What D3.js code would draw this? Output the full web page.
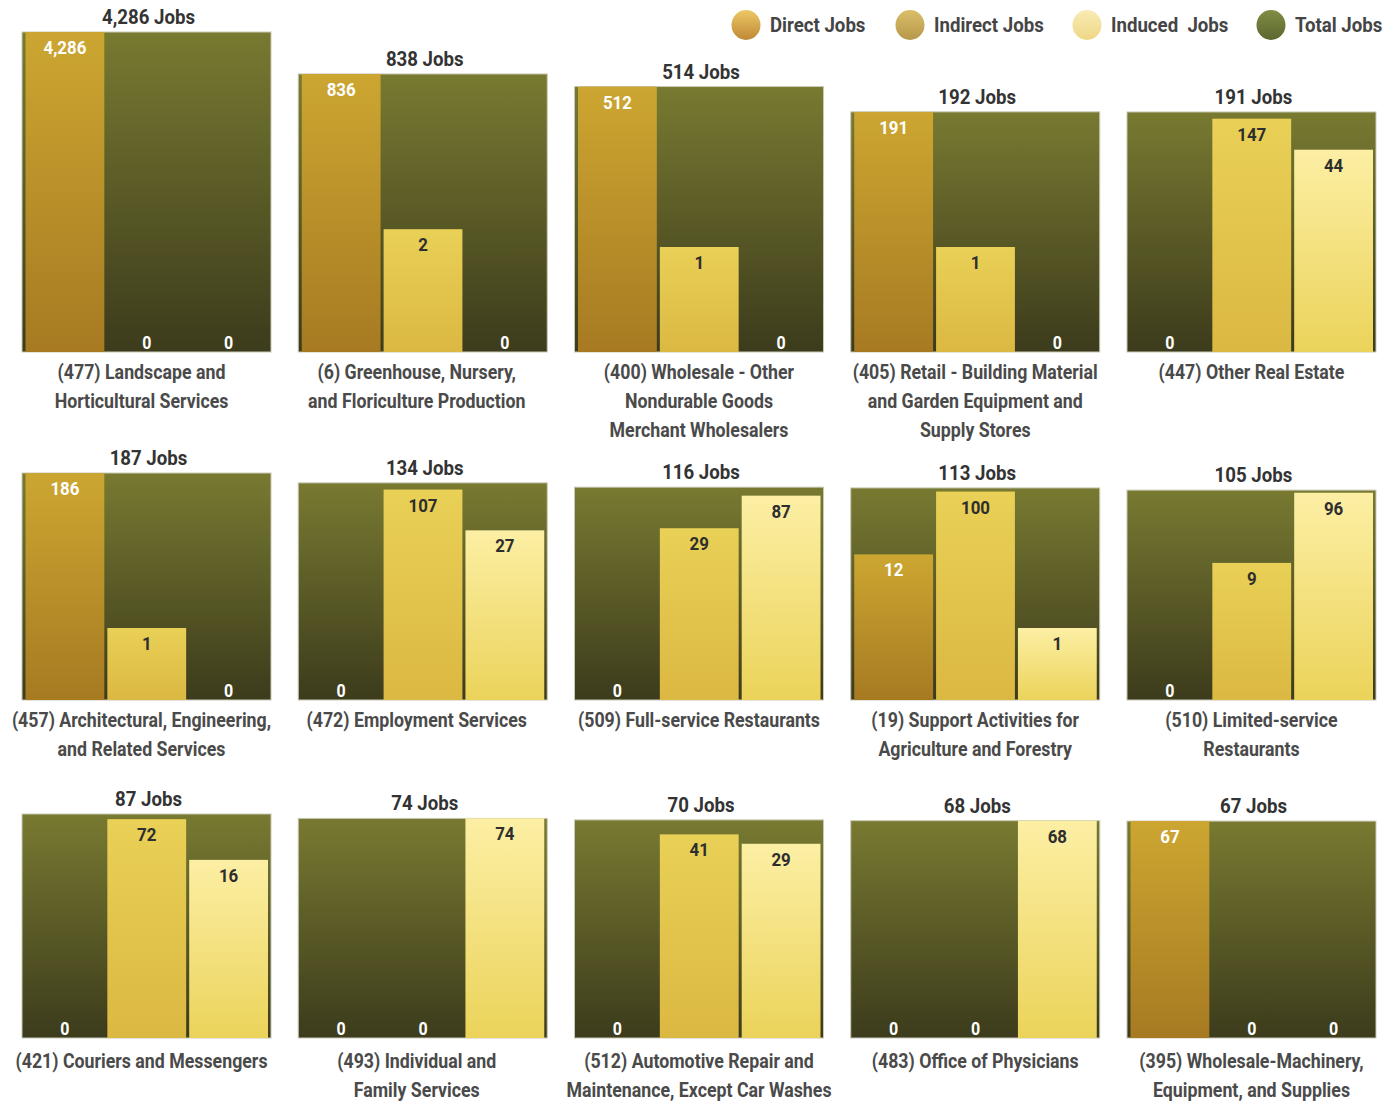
<!DOCTYPE html>
<html><head><meta charset="utf-8">
<script src="https://cdn.jsdelivr.net/npm/d3@7"></script>
<style>
body{margin:0;background:#fff}
text{font-family:"Roboto","Liberation Sans",sans-serif}
</style>
</head><body>
<svg id="chart" width="1393" height="1102"></svg>
<script>
// ---------------- DATA ----------------
const categories = [
  ["(477) Landscape and","Horticultural Services"],
  ["(6) Greenhouse, Nursery,","and Floriculture Production"],
  ["(400) Wholesale - Other","Nondurable Goods","Merchant Wholesalers"],
  ["(405) Retail - Building Material","and Garden Equipment and","Supply Stores"],
  ["(447) Other Real Estate"],
  ["(457) Architectural, Engineering,","and Related Services"],
  ["(472) Employment Services"],
  ["(509) Full-service Restaurants"],
  ["(19) Support Activities for","Agriculture and Forestry"],
  ["(510) Limited-service","Restaurants"],
  ["(421) Couriers and Messengers"],
  ["(493) Individual and","Family Services"],
  ["(512) Automotive Repair and","Maintenance, Except Car Washes"],
  ["(483) Office of Physicians"],
  ["(395) Wholesale-Machinery,","Equipment, and Supplies"]
];
const directJobs   = [4286, 836, 512, 191,   0, 186,   0,  0,  12,  0,  0,  0,  0,  0, 67];
const indirectJobs = [   0,   2,   1,   1, 147,   1, 107, 29, 100,  9, 72,  0, 41,  0,  0];
const inducedJobs  = [   0,   0,   0,   0,  44,   0,  27, 87,   1, 96, 16, 74, 29, 68,  0];
const totalJobs    = [4286, 838, 514, 192, 191, 187, 134, 116, 113, 105, 87, 74, 70, 68, 67];
const seriesKeys   = ["direct","indirect","induced"];
const legendLabels = ["Direct Jobs","Indirect Jobs","Induced  Jobs","Total Jobs"];

// ---------------- LAYOUT ----------------
const svg = d3.select("#chart");
const nCols = 5;
const rowBottoms = [352, 700, 1038];
const rowMinH = [105, 72, 103];   // bar height at value 1
const rowMaxH = [320, 227, 224];  // bar height at row max
const rowLabelOffset = [27, 27, 30];
const colLabelShift = [-5, -6, 0, 0, 0];
const legendX = [746, 910, 1087, 1271];

// condensed-look factor: measure a reference string and compress to the reference width
const probe = svg.append("text").attr("font-size", 20).attr("font-weight", "bold").text("(421) Couriers and Messengers");
const squeeze = Math.min(1, 252 / probe.node().getComputedTextLength());
probe.remove();
function condense(sel){
  sel.each(function(){
    const w = this.getComputedTextLength();
    if (w > 0) d3.select(this).attr("textLength", w * squeeze).attr("lengthAdjust", "spacingAndGlyphs");
  });
  return sel;
}

const colScale = d3.scaleBand().domain(d3.range(nCols)).range([22, 1376]).paddingInner(0.0986).paddingOuter(0);

// gradients
const defs = svg.append("defs");
function grad(id, c1, c2){
  const g = defs.append("linearGradient").attr("id", id).attr("x1",0).attr("y1",0).attr("x2",0).attr("y2",1);
  g.append("stop").attr("offset","0%").attr("stop-color",c1);
  g.append("stop").attr("offset","100%").attr("stop-color",c2);
}
grad("g-total", "#787a31", "#3c3b1c");
grad("g-direct", "#cca631", "#a77a22");
grad("g-indirect", "#e9d056", "#dbb842");
grad("g-induced", "#fcefa4", "#ebd35a");
grad("l-direct", "#ecc866", "#bf8836");
grad("l-indirect", "#dabf6a", "#b7974a");
grad("l-induced", "#f9ebb4", "#eed785");
grad("l-total", "#818d43", "#5a672f");

const fmt = d3.format(",");

const panels = totalJobs.map((t, i) => ({
  i, total: t, row: Math.floor(i / nCols), col: i % nCols,
  values: { direct: directJobs[i], indirect: indirectJobs[i], induced: inducedJobs[i] },
  label: categories[i]
}));

// per-row log scales
const rowScales = rowBottoms.map((b, r) => {
  const rowMax = d3.max(panels.filter(p => p.row === r), p => p.total);
  return d3.scaleLog().domain([1, rowMax]).range([b - rowMinH[r], b - rowMaxH[r]]);
});

panels.forEach(p => {
  const y = rowScales[p.row];
  const bottom = rowBottoms[p.row];
  const x0 = colScale(p.col), w = colScale.bandwidth();
  const g = svg.append("g");
  const top = y(p.total);

  g.append("rect").attr("x", x0).attr("y", top).attr("width", w).attr("height", bottom - top)
    .attr("fill", "url(#g-total)").attr("stroke", "#c9c9b6").attr("stroke-width", 1);

  condense(g.append("text").attr("x", x0 + w / 2 + 2).attr("y", top - 8).attr("text-anchor", "middle")
    .attr("font-size", 21).attr("font-weight", "bold").attr("fill", "#333")
    .text(fmt(p.total) + " Jobs"));

  const xb = d3.scaleBand().domain(seriesKeys).range([x0 + 3.5, x0 + w - 3]).paddingInner(0.037);

  seriesKeys.forEach(k => {
    const v = p.values[k];
    const bx = xb(k), bw = xb.bandwidth();
    if (v > 0) {
      const by = y(v);
      g.append("rect").attr("x", bx).attr("y", by).attr("width", bw).attr("height", bottom - by)
        .attr("fill", `url(#g-${k})`);
      condense(g.append("text").attr("x", bx + bw / 2).attr("y", by + 22).attr("text-anchor", "middle")
        .attr("font-size", 19).attr("font-weight", "bold")
        .attr("fill", k === "direct" ? "#ffffff" : "#2e2e2e")
        .text(fmt(v)));
    } else {
      condense(g.append("text").attr("x", bx + bw / 2).attr("y", bottom - 3).attr("text-anchor", "middle")
        .attr("font-size", 18).attr("font-weight", "bold").attr("fill", "#ffffff")
        .text("0"));
    }
  });

  p.label.forEach((line, li) => {
    condense(g.append("text").attr("x", x0 + w / 2 + colLabelShift[p.col]).attr("y", bottom + rowLabelOffset[p.row] + li * 29)
      .attr("text-anchor", "middle")
      .attr("font-size", 20).attr("font-weight", "bold").attr("fill", "#4a4a4a")
      .style("white-space", "pre")
      .text(line));
  });
});

// legend
const lg = svg.append("g");
const lkeys = ["direct","indirect","induced","total"];
legendLabels.forEach((t, i) => {
  lg.append("ellipse").attr("cx", legendX[i]).attr("cy", 25).attr("rx", 14.5).attr("ry", 15)
    .attr("fill", `url(#l-${lkeys[i]})`);
  condense(lg.append("text").attr("x", legendX[i] + 24).attr("y", 32).attr("font-size", 21)
    .attr("font-weight", "bold").attr("fill", "#454545").style("white-space", "pre").text(t));
});
</script>
</body></html>
